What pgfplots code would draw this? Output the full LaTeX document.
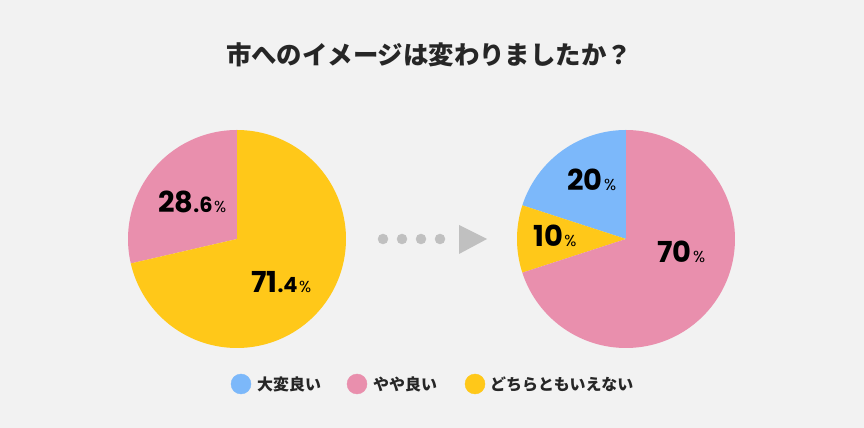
\documentclass[border=0pt]{standalone}
\usepackage{pgfplots}
\pgfplotsset{compat=1.18}
\usepackage{fontspec}
\newfontfamily\jp{Noto Sans CJK JP}
\newfontfamily\pop{Poppins}
\definecolor{bg}{RGB}{242,242,242}
\definecolor{cyellow}{RGB}{255,200,25}
\definecolor{cpink}{RGB}{233,143,173}
\definecolor{cblue}{RGB}{124,184,250}
\definecolor{cgray}{RGB}{192,192,192}

% share of each answer, in percent
\def\Lpink{28.6}  \def\Lyellow{71.4}
\def\Rblue{20}    \def\Ryellow{10}   \def\Rpink{70}

% slice: centre x, centre y, radius, start angle, percent, colour
\newcommand\slice[6]{%
  \pgfmathsetmacro\sa{#4}%
  \pgfmathsetmacro\ea{#4+3.6*#5}%
  \addplot[fill=#6, draw=none, domain=\sa:\ea, samples=120]
    ({#1+#3*cos(x)},{#2+#3*sin(x)}) -- (axis cs:#1,#2) -- cycle;
}
\newcommand\pct[2]{{\pop\bfseries\fontsize{29}{29}\selectfont #1\fontsize{21}{21}\selectfont #2\mdseries\fontsize{16}{16}\selectfont\kern1.5bp\%}}

\begin{document}
\begin{tikzpicture}
\begin{axis}[
    width=864bp, height=428bp, scale only axis,
    xmin=0, xmax=864, ymin=0, ymax=428,
    hide axis, clip=false,
    axis background/.style={fill=bg},
]
% left pie (before)
\slice{237}{189}{109}{90}{\Lpink}{cpink}
\slice{237}{189}{109}{90+3.6*\Lpink}{\Lyellow}{cyellow}
% right pie (after)
\slice{626}{189}{109}{90}{\Rblue}{cblue}
\slice{626}{189}{109}{90+3.6*\Rblue}{\Ryellow}{cyellow}
\slice{626}{189}{109}{90+3.6*(\Rblue+\Ryellow)}{\Rpink}{cpink}

% arrow
\addplot[only marks, mark=*, mark size=5bp, color=cgray] coordinates {(383,189) (402,189) (421,189) (440,189)};
\addplot[fill=cgray, draw=none] coordinates {(459,203) (487,189) (459,174)} -- cycle;

% legend markers
\addplot[only marks, mark=*, mark size=10bp, color=cblue] coordinates {(241,44)};
\addplot[only marks, mark=*, mark size=10bp, color=cpink] coordinates {(357,44)};
\addplot[only marks, mark=*, mark size=10bp, color=cyellow] coordinates {(475,44)};

\node[anchor=west, inner sep=0pt, font=\jp\bfseries\fontsize{16}{16}\selectfont, text=black!85] at (axis cs:257,44) {大変良い};
\node[anchor=west, inner sep=0pt, font=\jp\bfseries\fontsize{16}{16}\selectfont, text=black!85] at (axis cs:373,44) {やや良い};
\node[anchor=west, inner sep=0pt, font=\jp\bfseries\fontsize{16}{16}\selectfont, text=black!85] at (axis cs:490,44) {どちらともいえない};

% title
\node[inner sep=0pt, font=\jp\bfseries\fontsize{25.5}{25.5}\selectfont, text=black!85] at (axis cs:429,373) {市へのイメージは変わりましたか？};

% value labels
\node[anchor=base west, inner sep=0pt] at (axis cs:158,215) {\pct{28}{.6}};
\node[anchor=base west, inner sep=0pt] at (axis cs:251,135) {\pct{71}{.4}};
\node[anchor=base west, inner sep=0pt] at (axis cs:567,237) {\pct{20}{}};
\node[anchor=base west, inner sep=0pt] at (axis cs:533,181) {\pct{10}{}};
\node[anchor=base west, inner sep=0pt] at (axis cs:657,165) {\pct{70}{}};
\end{axis}
\end{tikzpicture}
\end{document}
